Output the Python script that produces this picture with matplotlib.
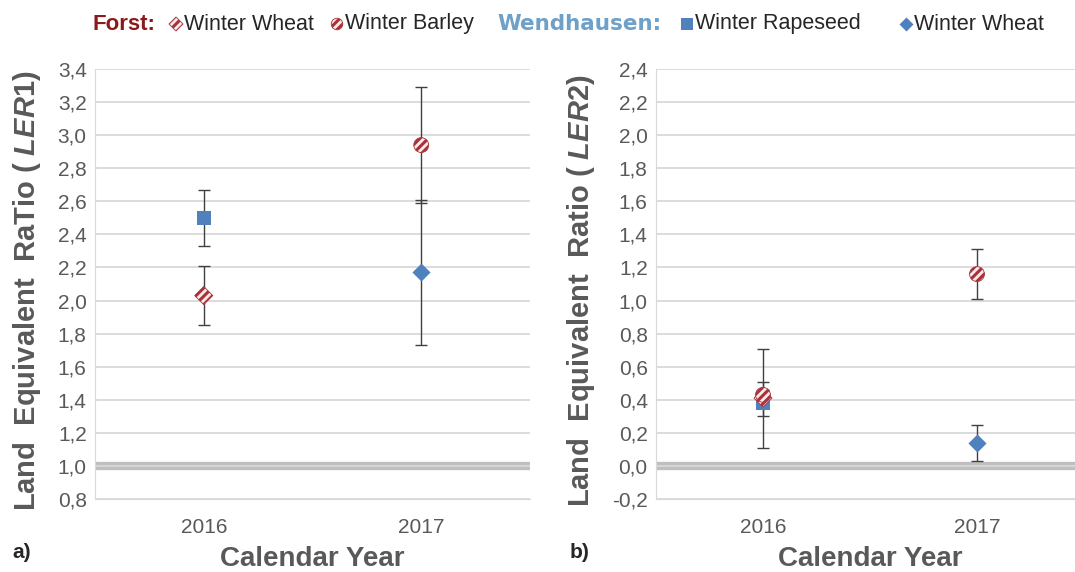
import matplotlib.pyplot as plt
from matplotlib.ticker import FuncFormatter

plt.rcParams['font.family'] = ['Liberation Sans', 'DejaVu Sans']
plt.rcParams['mathtext.fontset'] = 'custom'
plt.rcParams['mathtext.it'] = 'Liberation Sans:italic:bold'
plt.rcParams['mathtext.rm'] = 'Liberation Sans:bold'
plt.rcParams['hatch.linewidth'] = 2.2

years = ['2016', '2017']

# LER1 (panel a)
forst_wheat_ler1 = [2.03, None]
forst_wheat_ler1_err = [0.18, None]
forst_barley_ler1 = [None, 2.94]
forst_barley_ler1_err = [None, 0.35]
wend_rape_ler1 = [2.50, None]
wend_rape_ler1_err = [0.17, None]
wend_wheat_ler1 = [None, 2.17]
wend_wheat_ler1_err = [None, 0.44]

# LER2 (panel b)
forst_wheat_ler2 = [0.41, None]
forst_wheat_ler2_err = [0.30, None]
forst_barley_ler2 = [0.43, 1.16]
forst_barley_ler2_err = [0.08, 0.15]
wend_rape_ler2 = [0.38, None]
wend_rape_ler2_err = [0.08, None]
wend_wheat_ler2 = [None, 0.14]
wend_wheat_ler2_err = [None, 0.11]

red = '#A8323A'
blue = '#4F81BD'
grey_text = '#595959'
err_col = '#404040'

fig = plt.figure(figsize=(10.75, 5.72), dpi=100)
ax1 = fig.add_axes([95 / 1075, 1 - 499 / 572, 435 / 1075, 430 / 572])
ax2 = fig.add_axes([656 / 1075, 1 - 499 / 572, 428 / 1075, 430 / 572])

SIZES = {'D': 85, 'o': 115, 's': 110}


def put_marker(ax, x, y, marker, hatched, scale=1.0, z=4):
    s = SIZES[marker] * scale
    if hatched:
        ax.scatter(x, y, s=s, marker=marker, facecolor='#FBE9E9',
                   edgecolor=red, hatch='////', linewidth=0.6, zorder=z)
    else:
        ax.scatter(x, y, s=s, marker=marker, color=blue, linewidth=0,
                   zorder=z)


def draw_series(ax, vals, errs, marker, hatched):
    for i, (v, e) in enumerate(zip(vals, errs)):
        if v is None:
            continue
        ax.errorbar(i, v, yerr=e, fmt='none', ecolor=err_col, elinewidth=1,
                    capsize=4.5, capthick=1, zorder=3)
        put_marker(ax, i, v, marker, hatched)


comma = FuncFormatter(lambda v, p: f'{v:.1f}'.replace('.', ','))


def style(ax, lo, hi, ref, ylabel, label_x):
    ax.set_xlim(-0.5, 1.5)
    ax.set_ylim(lo, hi)
    ticks = [lo + 0.2 * k for k in range(int(round((hi - lo) / 0.2)) + 1)]
    ax.set_yticks(ticks)
    ax.yaxis.set_major_formatter(comma)
    ax.set_xticks([0, 1])
    ax.set_xticklabels(years)
    ax.grid(axis='y', color='#D9D9D9', linewidth=1.3, zorder=0)
    ax.axhline(ref, color='#BFBFBF', linewidth=6, zorder=1)
    for s in ['top', 'right']:
        ax.spines[s].set_visible(False)
    ax.spines['left'].set_color('#D9D9D9')
    ax.spines['bottom'].set_color('#D9D9D9')
    ax.tick_params(length=0, labelsize=15, labelcolor=grey_text, pad=6)
    ax.tick_params(axis='x', pad=14)
    ax.set_ylabel(ylabel, fontsize=21, fontweight='bold', color=grey_text)
    ax.yaxis.set_label_coords(label_x, 0.484)
    ax.set_xlabel('Calendar Year', fontsize=20, fontweight='bold',
                  color=grey_text, labelpad=6)


draw_series(ax1, forst_wheat_ler1, forst_wheat_ler1_err, 'D', True)
draw_series(ax1, forst_barley_ler1, forst_barley_ler1_err, 'o', True)
draw_series(ax1, wend_rape_ler1, wend_rape_ler1_err, 's', False)
draw_series(ax1, wend_wheat_ler1, wend_wheat_ler1_err, 'D', False)
style(ax1, 0.8, 3.4, 1.0, r'Land  Equivalent  RaTio ( $\mathit{LER1}$)',
      -0.12)

draw_series(ax2, wend_rape_ler2, wend_rape_ler2_err, 's', False)
draw_series(ax2, forst_wheat_ler2, forst_wheat_ler2_err, 'D', True)
draw_series(ax2, forst_barley_ler2, forst_barley_ler2_err, 'o', True)
draw_series(ax2, wend_wheat_ler2, wend_wheat_ler2_err, 'D', False)
style(ax2, -0.2, 2.4, 0.0, r'Land  Equivalent  Ratio ( $\mathit{LER2}$)',
      -0.139)

fig.text(12 / 1075, 1 - 552 / 572, 'a)', fontsize=15, fontweight='bold',
         color='#262626', va='center')
fig.text(570 / 1075, 1 - 552 / 572, 'b)', fontsize=15, fontweight='bold',
         color='#262626', va='center')

# legend row across the top, in pixel coordinates
lax = fig.add_axes([0, 0, 1, 1], facecolor='none')
lax.set_xlim(0, 1075)
lax.set_ylim(572, 0)
lax.axis('off')
lax.text(92, 24, 'Forst:', fontsize=16, fontweight='bold', color='#8B1A1A',
         va='center')
lax.text(497, 24, 'Wendhausen:', fontsize=15.5, fontweight='bold',
         color='#6FA0C8', va='center', family='DejaVu Sans')
leg_items = [
    (176, 'D', True, 'Winter Wheat'),
    (337, 'o', True, 'Winter Barley'),
    (687, 's', False, 'Winter Rapeseed'),
    (906, 'D', False, 'Winter Wheat'),
]
for x, m, h, label in leg_items:
    put_marker(lax, x, 24, m, h, scale=0.6)
    lax.text(x + 8, 24, label, fontsize=15.5, color='#262626', va='center')

fig.savefig('out.png', dpi=100, facecolor='white')
